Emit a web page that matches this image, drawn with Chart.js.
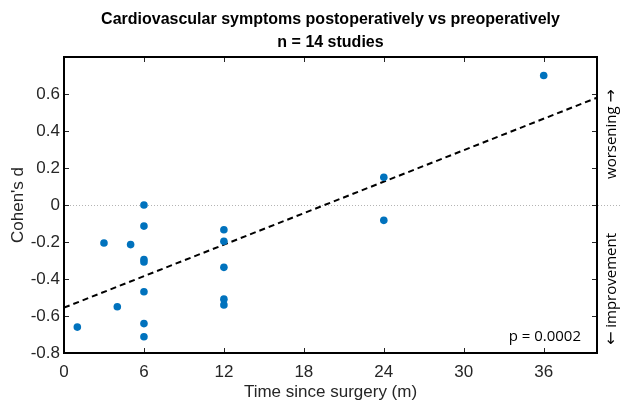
<!DOCTYPE html>
<html>
<head>
<meta charset="utf-8">
<script src="https://cdn.jsdelivr.net/npm/chart.js@4.4.0/dist/chart.umd.min.js"></script>
<style>
  html, body { margin: 0; padding: 0; background: #fff; }
  #wrap { width: 622px; height: 404px; }
</style>
</head>
<body>
<div id="wrap"><canvas id="chart"></canvas></div>
<script>
'use strict';

// months since surgery and Cohen's d, one entry per study arm
const months = [1, 3, 4, 5, 6, 6, 6, 6, 6, 6, 6, 12, 12, 12, 12, 12, 24, 24, 36];
const cohensD = [-0.66, -0.205, -0.55, -0.214, 0, -0.114, -0.295, -0.308, -0.469, -0.641, -0.712,
  -0.134, -0.196, -0.337, -0.509, -0.54, 0.15, -0.083, 0.70];

// fitted trend line, read at both ends of the axis
const fitX = [0, 40];
const fitY = [-0.555, 0.58];

const xTicks = [0, 6, 12, 18, 24, 30, 36];
const yTicks = [-0.8, -0.6, -0.4, -0.2, 0, 0.2, 0.4, 0.6];

const titleLines = ['Cardiovascular symptoms postoperatively vs preoperatively', 'n = 14 studies'];
const pValueText = 'p = 0.0002';

const points = months.map(function (m, i) {
  return { x: m, y: cohensD[i] };
});
const fitPoints = fitX.map(function (x, i) {
  return { x: x, y: fitY[i] };
});

const wordFont = '15px "Open Sans", sans-serif';
const arrowFont = '16px "DejaVu Sans", sans-serif';

// draws word + arrow pieces centred on cy (already rotated context)
function drawPieces(ctx, pieces, cy) {
  let total = 0;
  pieces.forEach(function (p) {
    ctx.font = p.font;
    p.w = ctx.measureText(p.text).width;
    total += p.w;
  });
  let pos = cy - total / 2;
  pieces.forEach(function (p) {
    ctx.font = p.font;
    ctx.fillText(p.text, pos, 0);
    pos += p.w;
  });
}

const decorations = {
  id: 'decorations',
  beforeDatasetsDraw(chart) {
    const ctx = chart.ctx;
    const area = chart.chartArea;
    const ys = chart.scales.y;
    const zy = Math.round(ys.getPixelForValue(0)) + 0.5;
    ctx.save();
    ctx.strokeStyle = '#b4b4b4';
    ctx.lineWidth = 1;
    ctx.setLineDash([1, 2]);
    ctx.beginPath();
    ctx.moveTo(area.left, zy);
    ctx.lineTo(chart.width, zy);
    ctx.stroke();
    ctx.restore();
  },
  afterDraw(chart) {
    const ctx = chart.ctx;
    const area = chart.chartArea;
    const xs = chart.scales.x;
    const ys = chart.scales.y;
    ctx.save();

    // inner tick marks on all four sides
    ctx.strokeStyle = '#262626';
    ctx.lineWidth = 1;
    const tl = 5;
    xTicks.forEach(function (v) {
      const px = Math.round(xs.getPixelForValue(v)) + 0.5;
      ctx.beginPath();
      ctx.moveTo(px, area.bottom);
      ctx.lineTo(px, area.bottom - tl);
      ctx.moveTo(px, area.top);
      ctx.lineTo(px, area.top + tl);
      ctx.stroke();
    });
    yTicks.forEach(function (v) {
      const py = Math.round(ys.getPixelForValue(v)) + 0.5;
      ctx.beginPath();
      ctx.moveTo(area.left, py);
      ctx.lineTo(area.left + tl, py);
      ctx.moveTo(area.right, py);
      ctx.lineTo(area.right - tl, py);
      ctx.stroke();
    });

    // box
    ctx.strokeStyle = '#000';
    ctx.lineWidth = 2;
    ctx.strokeRect(area.left, area.top, area.right - area.left, area.bottom - area.top);

    // title
    ctx.fillStyle = '#000';
    ctx.textAlign = 'center';
    ctx.textBaseline = 'middle';
    ctx.font = 'bold 16px "Liberation Sans", Arial, sans-serif';
    const cx = (area.left + area.right) / 2;
    ctx.fillText(titleLines[0], cx, 20);
    ctx.fillText(titleLines[1], cx, 43);

    // p value
    ctx.font = '15px "Open Sans", sans-serif';
    ctx.textAlign = 'right';
    ctx.fillText(pValueText, area.right - 16, 337);

    // side annotations
    ctx.textAlign = 'left';
    ctx.translate(612, 0);
    ctx.rotate(-Math.PI / 2);
    drawPieces(ctx, [
      { text: 'worsening ', font: wordFont },
      { text: '\u2192', font: arrowFont }
    ], -134);
    drawPieces(ctx, [
      { text: '\u2190', font: arrowFont },
      { text: ' improvement', font: wordFont }
    ], -289);
    ctx.restore();
  }
};

new Chart(document.getElementById('chart'), {
  type: 'scatter',
  data: {
    datasets: [
      {
        label: 'studies',
        data: points,
        backgroundColor: '#0072BD',
        borderColor: '#0072BD',
        pointRadius: 3.8,
        pointBorderWidth: 0,
        order: 1
      },
      {
        label: 'fit',
        data: fitPoints,
        showLine: true,
        borderColor: '#000',
        borderWidth: 2,
        borderDash: [6, 4],
        pointRadius: 0,
        order: 2
      }
    ]
  },
  options: {
    responsive: true,
    maintainAspectRatio: false,
    animation: false,
    layout: { padding: { top: 57, right: 25, left: 0, bottom: 0 } },
    plugins: {
      legend: { display: false },
      tooltip: { enabled: false }
    },
    scales: {
      x: {
        type: 'linear',
        min: 0,
        max: 40,
        afterBuildTicks: function (scale) {
          scale.ticks = xTicks.map(function (v) { return { value: v }; });
        },
        afterFit: function (scale) { scale.height = 51; },
        grid: { display: false, drawTicks: false },
        border: { display: false },
        ticks: {
          color: '#262626',
          padding: 9,
          maxRotation: 0,
          font: { family: '"Liberation Sans", Arial, sans-serif', size: 17 }
        },
        title: {
          display: true,
          text: 'Time since surgery (m)',
          color: '#262626',
          padding: { top: 0, bottom: 1 },
          font: { family: '"Liberation Sans", Arial, sans-serif', size: 17 }
        }
      },
      y: {
        type: 'linear',
        min: -0.8,
        max: 0.8,
        afterBuildTicks: function (scale) {
          scale.ticks = yTicks.map(function (v) { return { value: v }; });
        },
        afterFit: function (scale) { scale.width = 64; },
        grid: { display: false, drawTicks: false },
        border: { display: false },
        ticks: {
          color: '#262626',
          padding: 4,
          font: { family: '"Liberation Sans", Arial, sans-serif', size: 17 },
          callback: function (v) { return v === 0 ? '0' : v.toFixed(1); }
        },
        title: {
          display: true,
          text: "Cohen's d",
          color: '#262626',
          padding: { top: 8, bottom: 0 },
          font: { family: '"Liberation Sans", Arial, sans-serif', size: 17 }
        }
      }
    }
  },
  plugins: [decorations]
});
</script>
</body>
</html>
